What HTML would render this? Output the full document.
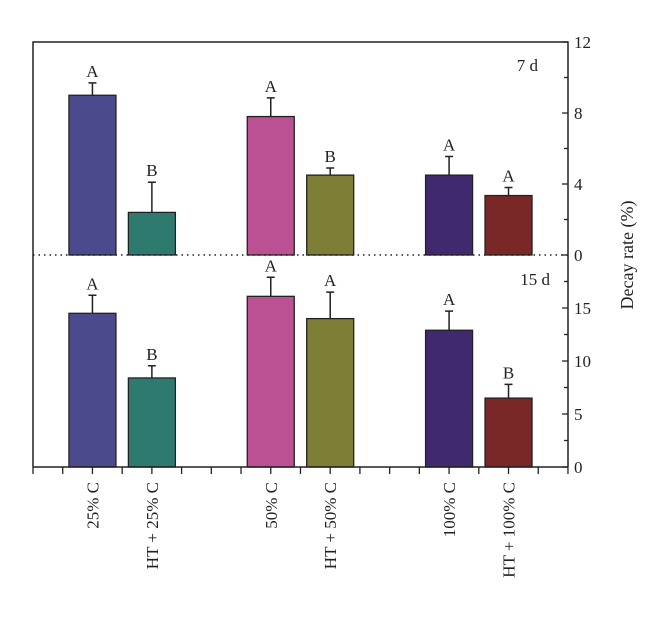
<!DOCTYPE html>
<html><head><meta charset="utf-8"><style>
body{margin:0;background:#fff}
svg{display:block;font-family:"Liberation Serif",serif}
</style></head><body>
<svg id="c" width="660" height="630" viewBox="0 0 660 630"></svg>
<script>
const categories=["25% C","HT + 25% C","50% C","HT + 50% C","100% C","HT + 100% C"];
const positions=[2,4,8,10,14,16];
const colors=["#4b4a8c","#2f7a6f","#bb5192","#7f7e36","#40296f","#7a2727"];
const top7=[9.0,2.4,7.8,4.5,4.5,3.35];
const top7Err=[9.7,4.1,8.85,4.9,5.55,3.8];
const top7Letters=["A","B","A","B","A","A"];
const bot15=[14.5,8.4,16.1,14.0,12.9,6.5];
const bot15Err=[16.2,9.55,17.9,16.5,14.7,7.8];
const bot15Letters=["A","B","A","A","A","B"];
const topTicks=[0,4,8,12];
const botTicks=[0,5,10,15];

const svg=document.getElementById('c');
const NS='http://www.w3.org/2000/svg';
function mk(t,a,txt){const e=document.createElementNS(NS,t);for(const k in a)e.setAttribute(k,a[k]);if(txt!==undefined)e.textContent=txt;svg.appendChild(e);return e;}
const X0=33,X1=568,step=29.72;
const xPos=k=>X0+step*k;
const yTop=v=>255-v*(213/12);
const yBot=v=>467-v*(212/20);
const bw=47;

function panel(vals,errs,letters,ys,pname){
  vals.forEach((v,i)=>{
    const cx=xPos(positions[i]);
    const r=mk('rect',{x:cx-bw/2,y:ys(v),width:bw,height:ys(0)-ys(v),fill:colors[i],stroke:'#222','stroke-width':1.3});
    
    
    const e=mk('path',{d:`M${cx} ${ys(v)}V${ys(errs[i])}M${cx-4} ${ys(errs[i])}H${cx+4}`,stroke:'#222','stroke-width':1.5,fill:'none'});
    
    
    const t=mk('text',{x:cx,y:ys(errs[i])-6,'text-anchor':'middle','font-size':17,fill:'#222'},letters[i]);
    
    
  });
}
panel(top7,top7Err,top7Letters,yTop,'7d');
panel(bot15,bot15Err,bot15Letters,yBot,'15d');

// frame
let f=mk('path',{d:`M${X0} 467V42H${X1}V467`,stroke:'#222','stroke-width':1.5,fill:'none'});

let b=mk('line',{x1:X0,y1:467,x2:X1,y2:467,stroke:'#222','stroke-width':1.5});

let d=mk('line',{x1:X0,y1:255,x2:X1,y2:255,stroke:'#222','stroke-width':1.5,'stroke-dasharray':'1.5 4'});

for(let k=0;k<=18;k++){
  const tk=mk('line',{x1:xPos(k),y1:467,x2:xPos(k),y2:474,stroke:'#222','stroke-width':1.3});
  
}
categories.forEach((c,i)=>{
  const x=xPos(positions[i]);
  const t=mk('text',{x:0,y:0,transform:`translate(${x+6},482) rotate(-90)`,'text-anchor':'end','font-size':17,fill:'#222'},c);
  
});
// right axis ticks
for(let v=0;v<=12;v+=2){
  const y=yTop(v);
  const tk=mk('line',{x1:X1-(v%4===0?6:4),y1:y,x2:X1,y2:y,stroke:'#222','stroke-width':1.3});
  
}
topTicks.forEach(v=>{const t=mk('text',{x:X1+6,y:yTop(v)+6,'font-size':17,fill:'#222'},String(v));
  });
for(let v=0;v<=17.5;v+=2.5){
  const y=yBot(v);
  const tk=mk('line',{x1:X1-(v%5===0?6:4),y1:y,x2:X1,y2:y,stroke:'#222','stroke-width':1.3});
  
}
botTicks.forEach(v=>{const t=mk('text',{x:X1+6,y:yBot(v)+6,'font-size':17,fill:'#222'},String(v));
  });
let yt=mk('text',{x:0,y:0,transform:'translate(633,255) rotate(-90)','text-anchor':'middle','font-size':18,fill:'#222'},'Decay rate (%)');

let p1=mk('text',{x:538,y:71,'text-anchor':'end','font-size':17,fill:'#222'},'7 d');

let p2=mk('text',{x:550,y:285,'text-anchor':'end','font-size':17,fill:'#222'},'15 d');

</script>
</body></html>
